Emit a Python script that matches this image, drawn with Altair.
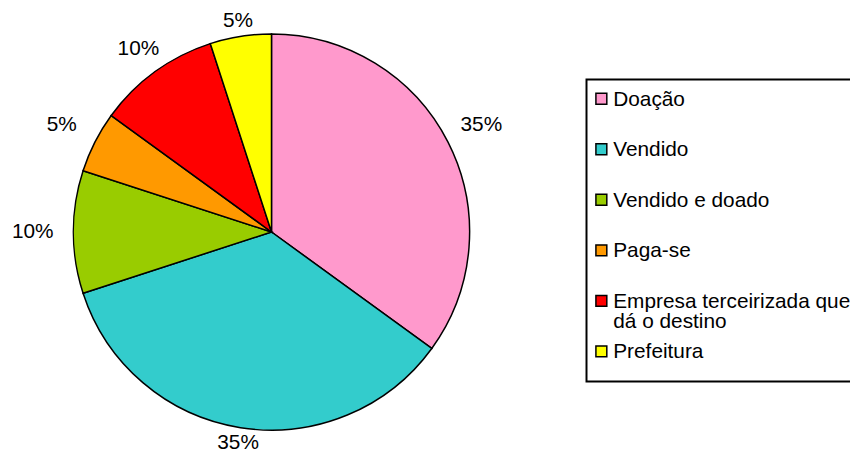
import altair as alt
import pandas as pd

# ---- data -------------------------------------------------------------
categories = ["Doação", "Vendido", "Vendido e doado", "Paga-se",
              "Empresa terceirizada que dá o destino", "Prefeitura"]
legend_labels = ["Doação", "Vendido", "Vendido e doado", "Paga-se",
                 "Empresa terceirizada que\ndá o destino", "Prefeitura"]
values = [35, 35, 10, 5, 10, 5]
colors = ["#FF99CC", "#33CCCC", "#99CC00", "#FF9900", "#FF0000", "#FFFF00"]

df = pd.DataFrame({
    "cat": categories,
    "label": legend_labels,
    "v": values,
    "idx": list(range(len(categories))),
})

FONT = "Liberation Sans"
CX, CY = 266, 224

color = alt.Color("cat:N", scale=alt.Scale(domain=categories, range=colors), legend=None)
base = alt.Chart(df)

pie = base.mark_arc(outerRadius=200, stroke="black", strokeWidth=1.5).encode(
    theta=alt.Theta("v:Q", stack=True),
    color=color,
    order=alt.Order("idx:Q"),
    x=alt.value(CX),
    y=alt.value(CY),
)

pct_labels = base.transform_window(
    cum="sum(v)", sort=[alt.SortField("idx")]
).transform_joinaggregate(
    total="sum(v)"
).transform_calculate(
    mid="2*PI*(datum.cum - datum.v/2)/datum.total",
    r="211 + 30*abs(sin(datum.mid))",
    txt="datum.v + '%'",
).mark_text(font=FONT, fontSize=21, color="black").encode(
    theta=alt.Theta("mid:Q", scale=None),
    radius=alt.Radius("r:Q", scale=None),
    text="txt:N",
    x=alt.value(CX),
    y=alt.value(CY),
)

# ---- legend (drawn from the same data) --------------------------------
legend_y = alt.Y("cat:N", sort=categories,
                 scale=alt.Scale(type="point", range=[89.5, 344.5], padding=0),
                 axis=None)

box = alt.Chart(pd.DataFrame({"a": [0]})).mark_rect(
    fill="white", stroke="black", strokeWidth=2
).encode(x=alt.value(584), x2=alt.value(900), y=alt.value(70), y2=alt.value(375))

squares = base.mark_square(size=121, stroke="black", strokeWidth=1.5, opacity=1).encode(
    x=alt.value(599), y=legend_y, color=color
)

legend_text = base.mark_text(
    align="left", baseline="alphabetic", dy=7, lineBreak="\n", lineHeight=20,
    fontSize=21, font=FONT, color="black"
).encode(x=alt.value(611), y=legend_y, text="label:N")

chart = alt.layer(box, squares, legend_text, pie, pct_labels).properties(
    width=850, height=449, autosize="none", padding=0
).configure_view(stroke=None)

chart.save("out.html", embed_options={"renderer": "svg", "actions": False})
